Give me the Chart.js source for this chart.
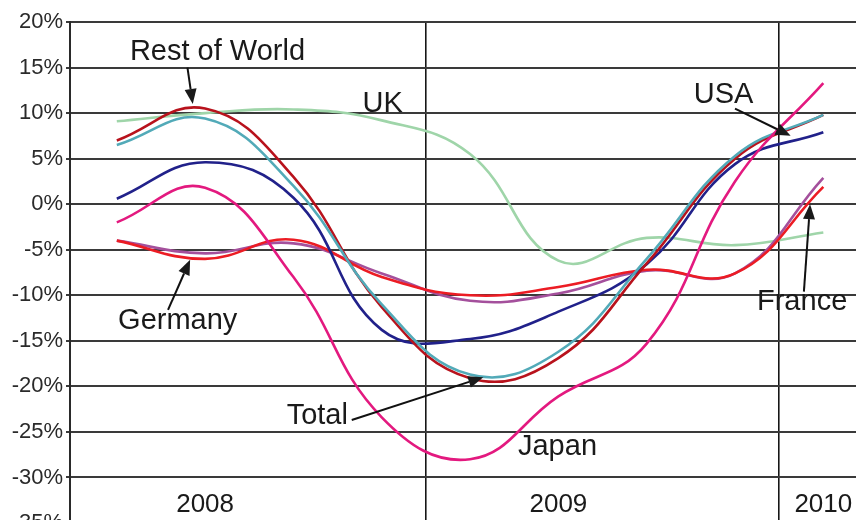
<!DOCTYPE html>
<html>
<head>
<meta charset="utf-8">
<script src="https://cdn.jsdelivr.net/npm/chart.js@4.4.1/dist/chart.umd.min.js"></script>
<style>
	html, body { margin: 0; padding: 0; background: #fff; overflow: hidden; }
	#wrap { width: 856px; height: 545px; }
</style>
</head>
<body>
<div id="wrap"><canvas id="chart-growth" width="856" height="545"></canvas></div>
<script>
'use strict';

// Quarters Q1 2008 .. Q1 2010 (index 0..8)
var quarters = ['Q1 2008', 'Q2 2008', 'Q3 2008', 'Q4 2008', 'Q1 2009', 'Q2 2009', 'Q3 2009', 'Q4 2009', 'Q1 2010'];
var yearLabels = ['2008', '2009', '2010'];
var yearLabelAt = [1, 5, 8];
var yearBoundaries = [3.5, 7.5];
var yTicks = [20, 15, 10, 5, 0, -5, -10, -15, -20, -25, -30, -35];

// Growth, % change
var uk = [9.1, 10.0, 10.4, 9.2, 5.5, -6.2, -3.7, -4.5, -3.1];
var restOfWorld = [7.0, 10.5, 3.0, -11.3, -19.1, -16.9, -6.5, 5.0, 9.8];
var total = [6.5, 9.4, 2.0, -11.0, -18.7, -16.2, -6.0, 5.3, 9.8];
var usa = [0.6, 4.6, 0.7, -13.8, -14.8, -11.8, -6.6, 4.4, 7.9];
var japan = [-2.0, 1.8, -8.0, -23.4, -28.0, -21.1, -15.3, 2.5, 13.3];
var germany = [-4.0, -6.0, -3.9, -8.0, -10.0, -9.1, -7.2, -7.6, 1.9];
var france = [-4.0, -5.4, -4.3, -7.6, -10.6, -9.8, -7.3, -7.6, 2.9];

// Labels and arrows, in axis units (quarter index, percent)
var notes = [
	{ text: 'Rest of World', x: 1.14, y: 16.7, from: [0.80, 15.0], to: [0.86, 11.0] },
	{ text: 'UK', x: 3.01, y: 11.0 },
	{ text: 'USA', x: 6.87, y: 12.0, from: [7.0, 10.5], to: [7.63, 7.5] },
	{ text: 'Germany', x: 0.69, y: -12.8, from: [0.58, -11.6], to: [0.83, -6.1] },
	{ text: 'France', x: 7.76, y: -10.75, from: [7.78, -9.6], to: [7.85, 0.0] },
	{ text: 'Total', x: 2.27, y: -23.2, from: [2.66, -23.7], to: [4.15, -19.0] },
	{ text: 'Japan', x: 4.99, y: -26.7 }
];

var GrowthChart = (function () {
	var $canvas = document.getElementById('chart-growth');
	var font = '"Liberation Sans", Arial, sans-serif';

	function points(values) {
		return values.map(function (v, i) {
			return { x: i, y: v };
		});
	}

	function line(label, values, color) {
		return {
			label: label,
			data: points(values),
			borderColor: color,
			borderWidth: 2.6,
			pointRadius: 0,
			fill: false,
			tension: 0.42
		};
	}

	function arrow(ctx, x1, y1, x2, y2) {
		var a = Math.atan2(y2 - y1, x2 - x1);
		var len = 15, half = 6;
		var bx = x2 - len * Math.cos(a), by = y2 - len * Math.sin(a);
		ctx.beginPath();
		ctx.moveTo(x1, y1);
		ctx.lineTo(bx, by);
		ctx.stroke();
		ctx.beginPath();
		ctx.moveTo(x2, y2);
		ctx.lineTo(bx + half * Math.sin(a), by - half * Math.cos(a));
		ctx.lineTo(bx - half * Math.sin(a), by + half * Math.cos(a));
		ctx.closePath();
		ctx.fill();
	}

	// Year labels and call-outs
	var notesPlugin = {
		id: 'notes',
		afterDatasetsDraw: function (chart) {
			var ctx = chart.ctx;
			var xs = chart.scales.x, ys = chart.scales.y;
			ctx.save();
			ctx.fillStyle = '#1a1a1a';
			ctx.strokeStyle = '#111';
			ctx.lineWidth = 2;
			ctx.textAlign = 'center';
			ctx.textBaseline = 'middle';

			ctx.font = '26px ' + font;
			yearLabels.forEach(function (t, i) {
				ctx.fillText(t, xs.getPixelForValue(yearLabelAt[i]), ys.getPixelForValue(-33));
			});

			ctx.font = '29px ' + font;
			notes.forEach(function (n) {
				ctx.fillText(n.text, xs.getPixelForValue(n.x), ys.getPixelForValue(n.y));
				if (n.from) {
					arrow(ctx,
						xs.getPixelForValue(n.from[0]), ys.getPixelForValue(n.from[1]),
						xs.getPixelForValue(n.to[0]), ys.getPixelForValue(n.to[1]));
				}
			});
			ctx.restore();
		}
	};

	function init($this) {
		var chart = new Chart($this, {
			type: 'line',
			data: {
				datasets: [
					line('Japan', japan, '#e3197f'),
					line('Total', total, '#52aab8'),
					line('Rest of World', restOfWorld, '#b8121c'),
					line('USA', usa, '#21218a'),
					line('Germany', germany, '#ec1c24'),
					line('France', france, '#a4509c'),
					line('UK', uk, '#9fd5a9')
				]
			},
			options: {
				responsive: false,
				animation: false,
				devicePixelRatio: 1,
				layout: {
					padding: { top: 22, right: 0, bottom: 22, left: 0 }
				},
				plugins: {
					legend: { display: false },
					tooltip: { enabled: false }
				},
				scales: {
					x: {
						type: 'linear',
						min: -0.53,
						max: 8.37,
						afterBuildTicks: function (scale) {
							scale.ticks = yearBoundaries.map(function (v) {
								return { value: v };
							});
						},
						ticks: { display: false },
						grid: {
							color: '#161616',
							lineWidth: 1.6,
							drawTicks: false
						},
						border: { display: false }
					},
					y: {
						min: -35,
						max: 20,
						afterBuildTicks: function (scale) {
							scale.ticks = yTicks.map(function (v) {
								return { value: v };
							});
						},
						afterFit: function (scale) {
							scale.width = 70;
						},
						ticks: {
							color: '#2a2a2a',
							padding: 3,
							font: { family: font, size: 22 },
							callback: function (v) {
								return v + '%';
							}
						},
						grid: {
							color: '#3a3a3a',
							lineWidth: 2,
							tickLength: 4
						},
						border: { color: '#2a2a2a', width: 2 }
					}
				}
			},
			plugins: [notesPlugin]
		});

		$this.chart = chart;
	}

	if ($canvas) {
		init($canvas);
	}
})();
</script>
</body>
</html>
